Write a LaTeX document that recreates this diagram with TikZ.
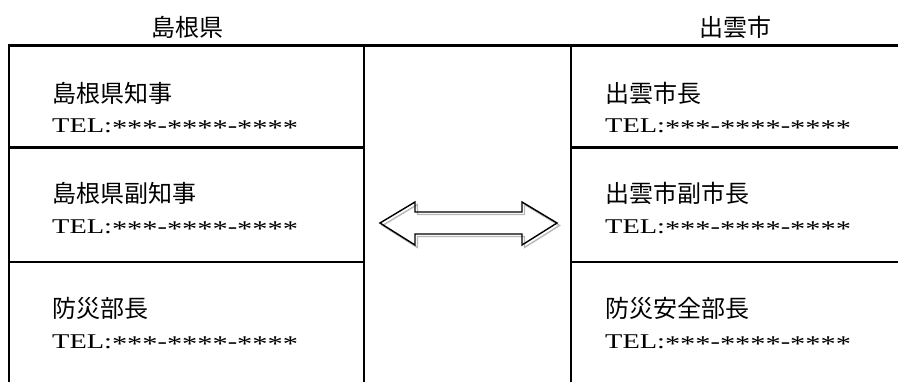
\documentclass[tikz,border=0pt]{standalone}
\usepackage{fontspec}
\usepackage{tikz}
\usetikzlibrary{positioning}
\newfontfamily\jpfont{Noto Sans CJK JP}
\newfontfamily\telfont[FakeStretch=1.35]{Liberation Serif}
\newcommand\telstars[1]{\raisebox{-0.3ex}{\fontsize{22.5}{22.5}\selectfont#1}}
\newcommand\telno{TEL:\telstars{***}-\telstars{****}-\telstars{****}}
\tikzset{
  grid/.style={line width=2.2pt, line cap=rect},
  head/.style={font=\jpfont\fontsize{24}{24}\selectfont, inner sep=0pt},
  post/.style={font=\jpfont\fontsize{24}{24}\selectfont, inner sep=0pt, anchor=west},
  tel/.style={font=\telfont\fontsize{21}{21}\selectfont, inner sep=0pt, anchor=west},
  dblarr/.style={line width=1.4pt, line join=miter},
  dblshadow/.style={line width=1.4pt, draw=black!28, shift={(2.5,2.5)}}
}

\begin{document}
\begin{tikzpicture}[x=1pt, y=-1pt]
\useasboundingbox (0,0) rectangle (898,381);
% headings
\node[head] (pref) at (187,27) {島根県};
\node[head] (city) at (735,27) {出雲市};
% table lines
\draw[grid] (9,381) -- (9,45.5) -- (898,45.5);
\draw[grid] (364,45.5) -- (364,381);
\draw[grid] (571,45.5) -- (571,381);
\draw[grid] (9,147.5) -- (364,147.5); \draw[grid] (9,262) -- (364,262);
\draw[grid] (571,147.5) -- (898,147.5); \draw[grid] (571,262) -- (898,262);
% left side
\node[post] (l1) at (52,93) {島根県知事};
\node[tel] (l1t) at ([yshift=-34.5pt]l1.west) {\telno};
\node[post] (l2) at (52,193) {島根県副知事};
\node[tel] (l2t) at ([yshift=-35pt]l2.west) {\telno};
\node[post] (l3) at (52,308) {防災部長};
\node[tel] (l3t) at ([yshift=-35pt]l3.west) {\telno};
% right side
\node[post] (r1) at (605,93) {出雲市長};
\node[tel] (r1t) at ([yshift=-34.5pt]r1.west) {\telno};
\node[post] (r2) at (605,193) {出雲市副市長};
\node[tel] (r2t) at ([yshift=-35pt]r2.west) {\telno};
\node[post] (r3) at (605,308) {防災安全部長};
\node[tel] (r3t) at ([yshift=-35pt]r3.west) {\telno};
% double arrow
\draw[dblshadow] (380,223) -- (415,202) -- (415,212) -- (522,212) -- (522,202) -- (557,223)
  -- (522,245) -- (522,234) -- (415,234) -- (415,245) -- cycle;
\draw[dblarr] (380,223) -- (415,202) -- (415,212) -- (522,212) -- (522,202) -- (557,223)
  -- (522,245) -- (522,234) -- (415,234) -- (415,245) -- cycle;
\end{tikzpicture}
\end{document}
